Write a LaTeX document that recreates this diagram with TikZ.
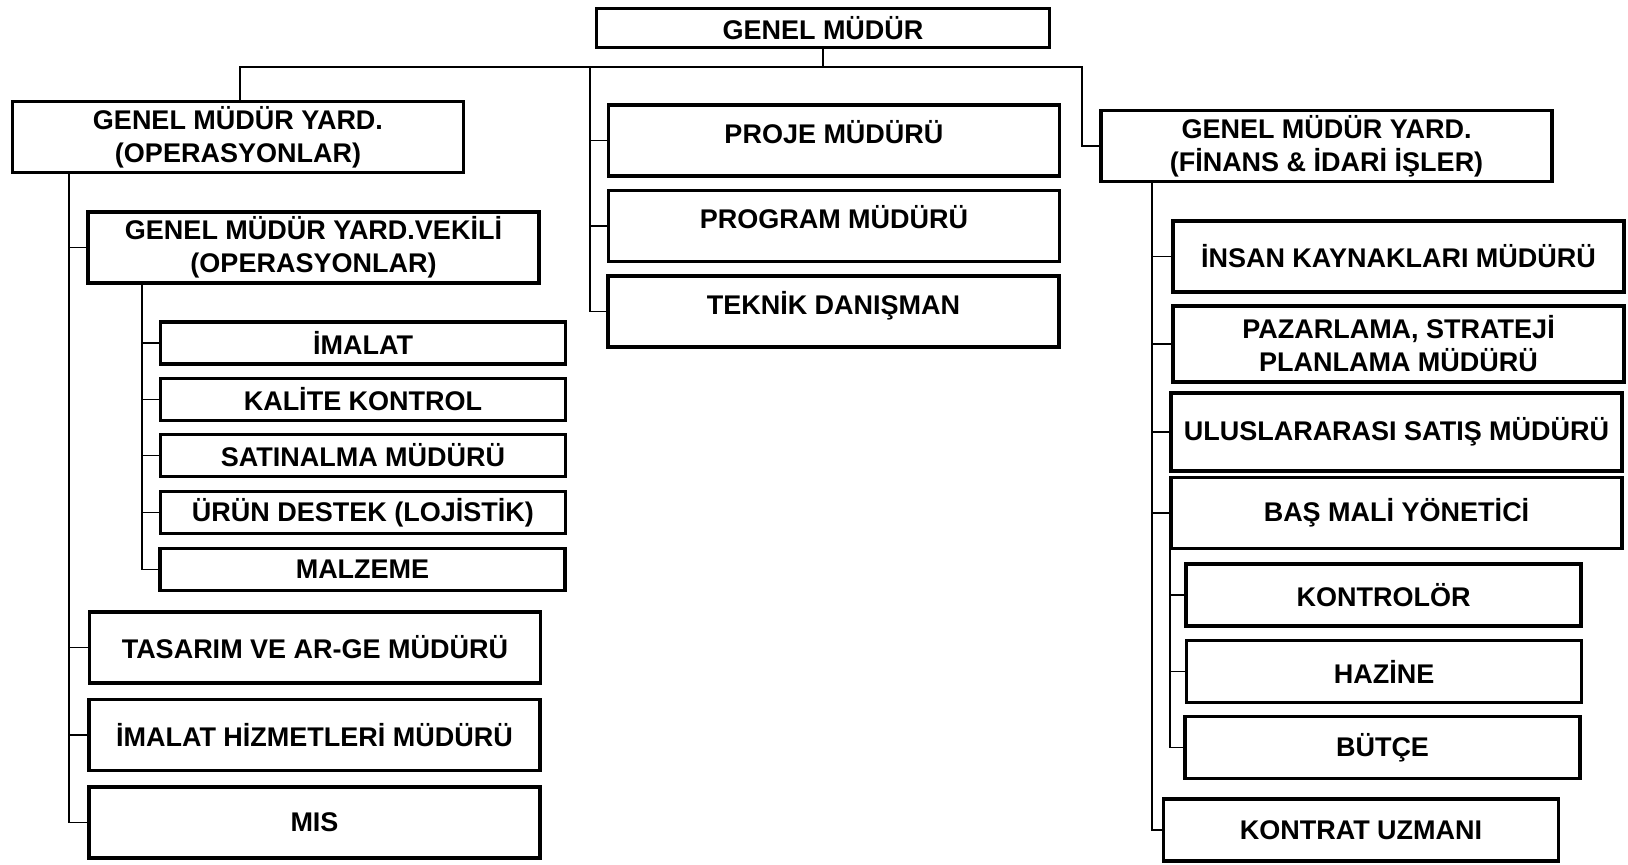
\documentclass[tikz,border=0pt]{standalone}
\usepackage{fontspec}
\setmainfont{Liberation Sans}

\begin{document}
\begin{tikzpicture}[x=0.5pt,y=-0.5pt,
    font=\fontsize{13.5}{16.5}\selectfont\bfseries,
    unit/.style={draw=black,fill=white,line width=1.6pt,align=center,inner sep=2pt},
    headbox/.style={unit,minimum width=226.5pt,minimum height=19.5pt},
    bigbox/.style={unit,minimum width=225.5pt,minimum height=35.5pt},
    smallbox/.style={unit,minimum width=202.5pt,minimum height=21pt},
    midbox/.style={unit,minimum width=197.5pt,minimum height=31pt},
    hightext/.style={text depth=9pt},
    link/.style={draw=black,line width=0.7pt}]

  \useasboundingbox (0,0) rectangle (1628,865);

  % top level
  \node[headbox] (gm) at (823,28) {GENEL MÜDÜR};

  % operations branch
  \node[bigbox,inner ysep=0pt] (opsA) at (238,137) {GENEL MÜDÜR YARD.\\(OPERASYONLAR)};
  \node[bigbox,inner ysep=0pt] (vek) at (313.5,247.5) {GENEL MÜDÜR YARD.VEKİLİ\\(OPERASYONLAR)};
  \node[smallbox] (imalat) at (363,343)   {İMALAT};
  \node[smallbox] (kalite) at (363,399.5) {KALİTE KONTROL};
  \node[smallbox] (satin)  at (363,455.5) {SATINALMA MÜDÜRÜ};
  \node[smallbox] (urun)   at (363,512.5) {ÜRÜN DESTEK (LOJİSTİK)};
  \node[smallbox] (malz)   at (362.5,569.5) {MALZEME};
  \node[bigbox] (tasarim) at (315,647.5) {TASARIM VE AR-GE MÜDÜRÜ};
  \node[bigbox] (imhiz) at (314.5,735) {İMALAT HİZMETLERİ MÜDÜRÜ};
  \node[bigbox] (mis) at (314.5,822.5) {MIS};

  % staff in the middle
  \node[bigbox,hightext] (proje)   at (834,140.5) {PROJE MÜDÜRÜ};
  \node[bigbox,hightext] (program) at (834,226)   {PROGRAM MÜDÜRÜ};
  \node[bigbox,hightext] (teknik)  at (833.5,311.5) {TEKNİK DANIŞMAN};

  % finance branch
  \node[bigbox,inner ysep=0pt] (fin) at (1326.5,146) {GENEL MÜDÜR YARD.\\(FİNANS \& İDARİ İŞLER)};
  \node[bigbox] (insan) at (1398.5,256.5) {İNSAN KAYNAKLARI MÜDÜRÜ};
  \node[bigbox,minimum height=38pt] (pazar) at (1398.5,344) {PAZARLAMA, STRATEJİ\\PLANLAMA MÜDÜRÜ};
  \node[bigbox,minimum height=39pt] (ulus) at (1396.5,432) {ULUSLARARASI SATIŞ MÜDÜRÜ};
  \node[bigbox] (basmali) at (1396.5,513) {BAŞ MALİ YÖNETİCİ};
  \node[midbox] (kontrolor) at (1383.5,595)  {KONTROLÖR};
  \node[midbox] (hazine)    at (1384,671.5)  {HAZİNE};
  \node[midbox] (butce)     at (1382.5,747.5) {BÜTÇE};
  \node[midbox] (kontrat)   at (1361,830)    {KONTRAT UZMANI};

  % bus under the general manager
  \coordinate (busL) at (240,67);
  \coordinate (busC) at (590,67);
  \coordinate (busR) at (1082,67);
  \draw[link] (gm.south) -- (gm.south |- busL);
  \draw[link] (opsA.north -| busL) -- (busL) -- (busR) |- (fin.west);
  \foreach \n in {proje,program,teknik}
    \draw[link] (busC) |- (\n.west);

  % spines
  \coordinate (opsS) at (69,173);
  \foreach \n in {vek,tasarim,imhiz,mis}
    \draw[link] (opsS) |- (\n.west);
  \coordinate (vekS) at (142,283);
  \foreach \n in {imalat,kalite,satin,urun,malz}
    \draw[link] (vekS) |- (\n.west);
  \coordinate (finS) at (1152,183);
  \foreach \n in {insan,pazar,ulus,basmali,kontrat}
    \draw[link] (finS) |- (\n.west);
  \coordinate (basS) at (1170,548);
  \foreach \n in {kontrolor,hazine,butce}
    \draw[link] (basS) |- (\n.west);
\end{tikzpicture}
\end{document}
